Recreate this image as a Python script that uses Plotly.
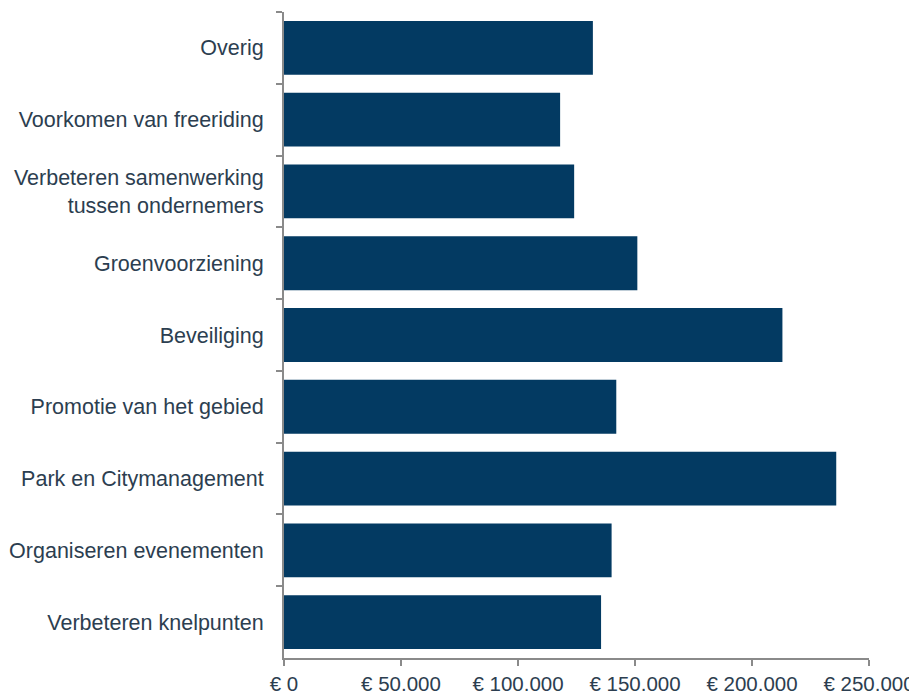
import plotly.graph_objects as go

categories = [
    "Overig",
    "Voorkomen van freeriding",
    "Verbeteren samenwerking<br>tussen ondernemers",
    "Groenvoorziening",
    "Beveiliging",
    "Promotie van het gebied",
    "Park en Citymanagement",
    "Organiseren evenementen",
    "Verbeteren knelpunten",
]
values = [132000, 118000, 124000, 151000, 213000, 142000, 236000, 140000, 135500]

tick_values = [0, 50000, 100000, 150000, 200000, 250000]
tick_labels = ["€ 0", "€ 50.000", "€ 100.000", "€ 150.000", "€ 200.000", "€ 250.000"]

fig = go.Figure(
    go.Bar(
        x=values,
        y=categories,
        orientation="h",
        marker=dict(color="#033a62", line=dict(width=0)),
    )
)

axis_color = "#8a8a8a"
font_color = "#2c3e50"
font_size = 21.5

# The page body adds an 8px offset, so the figure is sized to fit inside the window.
fig.update_layout(
    width=909,
    height=687,
    margin=dict(l=276, r=48, t=4, b=37),
    paper_bgcolor="white",
    plot_bgcolor="white",
    bargap=0.25,
    showlegend=False,
    font=dict(family="Liberation Sans, Arial, sans-serif", size=font_size, color=font_color),
)

fig.update_xaxes(
    range=[0, 250000],
    tickvals=tick_values,
    ticktext=tick_labels,
    automargin=False,
    showgrid=False,
    zeroline=False,
    showline=True,
    linecolor=axis_color,
    linewidth=2,
    ticks="outside",
    tickcolor=axis_color,
    ticklen=6,
    tickwidth=2,
    tickfont=dict(size=20.5, color=font_color),
)

fig.update_yaxes(
    autorange="reversed",
    automargin=False,
    showgrid=False,
    zeroline=False,
    showline=True,
    linecolor=axis_color,
    linewidth=2,
    ticks="outside",
    tickson="boundaries",
    tickcolor=axis_color,
    ticklen=6,
    tickwidth=2,
    ticklabelstandoff=14,
    tickfont=dict(size=font_size, color=font_color),
)

fig.write_html("out.html")
